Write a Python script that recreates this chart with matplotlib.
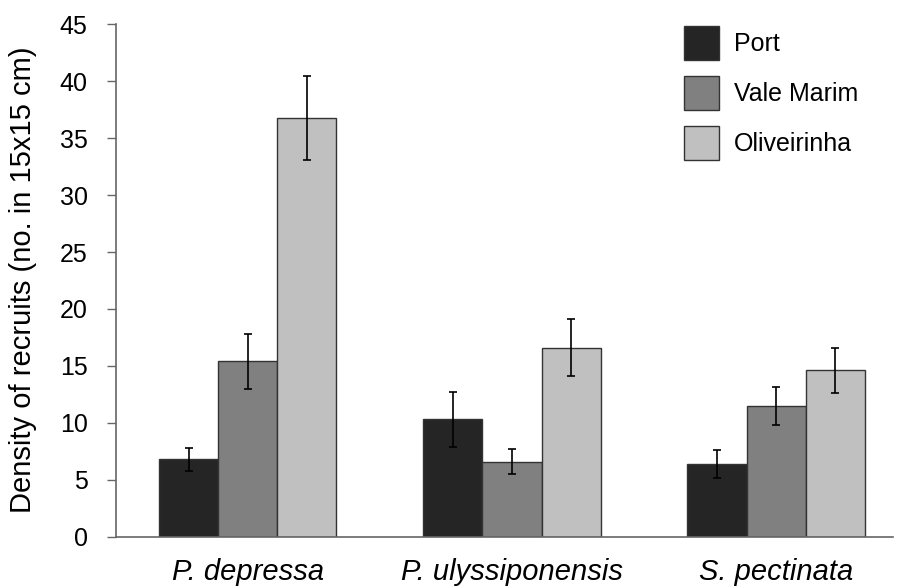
import numpy as np
import matplotlib
matplotlib.use("Agg")
import matplotlib.pyplot as plt

plt.rcParams["font.family"] = ["Liberation Sans", "DejaVu Sans"]

species = ["P. depressa", "P. ulyssiponensis", "S. pectinata"]
sites = ["Port", "Vale Marim", "Oliveirinha"]

# mean density per site for each species
port = [6.8, 10.3, 6.4]
vale_marim = [15.4, 6.6, 11.5]
oliveirinha = [36.8, 16.6, 14.6]

port_err = [1.0, 2.4, 1.25]
vale_marim_err = [2.4, 1.1, 1.65]
oliveirinha_err = [3.7, 2.5, 2.0]

COLORS = ["#252525", "#808080", "#c0c0c0"]

fig = plt.figure(figsize=(8.97, 5.88), dpi=100)
ax = fig.add_axes([0.1293, 0.0873, 0.8662, 0.8714])

x = np.arange(len(species))
w = 0.2235
series = [(port, port_err), (vale_marim, vale_marim_err), (oliveirinha, oliveirinha_err)]
for i, ((vals, errs), site) in enumerate(zip(series, sites)):
    ax.bar(x + (i - 1) * w, vals, width=w, color=COLORS[i], edgecolor="#333333",
           linewidth=1.0, label=site, yerr=errs, capsize=3.0,
           error_kw=dict(elinewidth=1.2, capthick=1.2, ecolor="black"))

ax.set_xlim(-0.5, 2.443)
ax.set_ylim(0, 45)
ax.set_yticks(np.arange(0, 46, 5))
ax.set_xticks(x)
ax.set_xticklabels(species, fontsize=21, style="italic")
ax.tick_params(axis="x", length=0, pad=15)
ax.tick_params(axis="y", labelsize=18, length=6.5, width=1, color="#666666", pad=14)
fig.text(23.5 / 897, 1 - 280 / 588, "Density of recruits (no. in 15x15 cm)",
         rotation=90, ha="center", va="center", fontsize=21)

for side in ("top", "right"):
    ax.spines[side].set_visible(False)
for side in ("left", "bottom"):
    ax.spines[side].set_color("#666666")
    ax.spines[side].set_linewidth(1.2)

ax.legend(loc="upper left", bbox_to_anchor=(684 / 897, 1 - 26 / 588),
          bbox_transform=fig.transFigure, frameon=False, fontsize=18,
          handlelength=1.4, handleheight=1.72, labelspacing=0.64,
          handletextpad=0.6, borderpad=0, borderaxespad=0)

fig.savefig("out.png", dpi=100)
